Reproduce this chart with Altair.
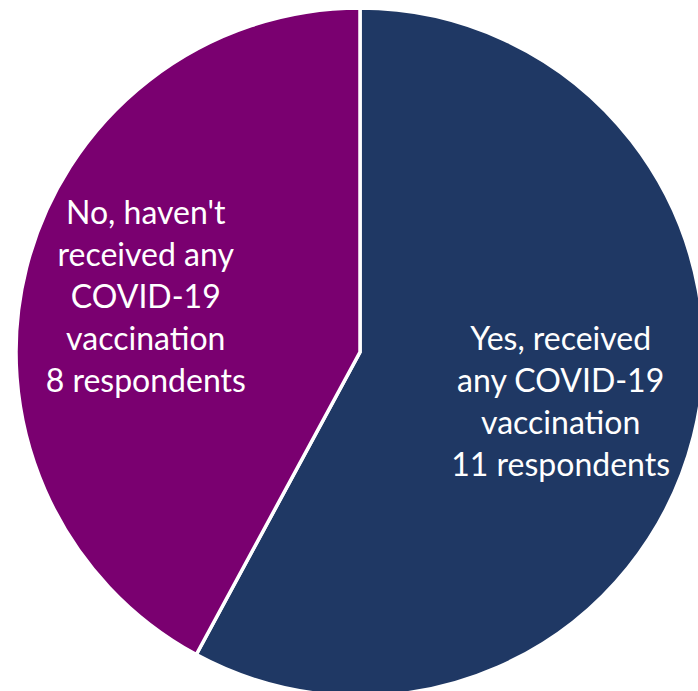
import altair as alt
import pandas as pd

categories = ["Yes", "No"]
counts = [11, 8]
label_text = [
    "Yes, received\nany COVID-19\nvaccination\n11 respondents",
    "No, haven't\nreceived any\nCOVID-19\nvaccination\n8 respondents",
]
colors = ["#1F3864", "#7A0070"]

df = pd.DataFrame({"cat": categories, "n": counts, "label": label_text, "ord": [0, 1]})

base = alt.Chart(df).encode(
    theta=alt.Theta("n:Q", stack=True),
    order=alt.Order("ord:O"),
)

pie = base.mark_arc(outerRadius=344, stroke="white", strokeWidth=3.5).encode(
    color=alt.Color("cat:N", scale=alt.Scale(domain=categories, range=colors), legend=None),
    x=alt.value(360),
    y=alt.value(352),
)

def label_layer(cat, dy, radius):
    return base.mark_text(
        radius=radius,
        font="Lato",
        fontSize=32,
        color="white",
        align="center",
        baseline="middle",
        lineBreak="\n",
        lineHeight=42,
        dy=dy,
    ).encode(
        text="label:N",
        x=alt.value(360),
        y=alt.value(352),
        opacity=alt.condition(alt.datum.cat == cat, alt.value(1), alt.value(0)),
    )

text_yes = label_layer("Yes", -63, 207)
text_no = label_layer("No", -84, 221)

chart = (pie + text_yes + text_no).properties(
    width=698, height=691, autosize=alt.AutoSizeParams(type="none"), padding=0
).configure_view(stroke=None)

chart.save("out.html", embed_options={"renderer": "svg", "actions": False})
